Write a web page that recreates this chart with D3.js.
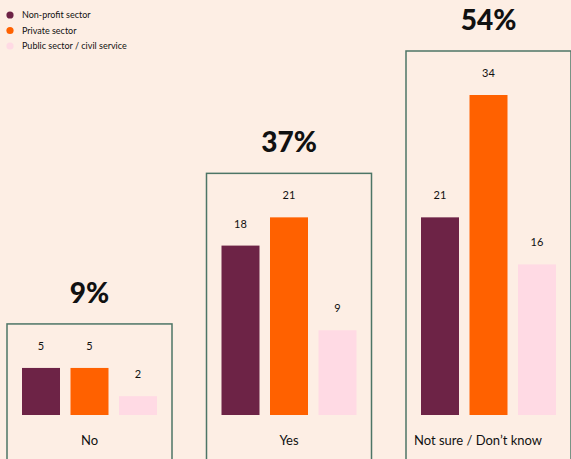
<!DOCTYPE html>
<html>
<head>
<meta charset="utf-8">
<script src="https://d3js.org/d3.v7.min.js"></script>
<style>
  html, body { margin: 0; padding: 0; background: #fdeee4; }
  text { font-family: Lato, "Noto Sans", sans-serif; fill: #111; }
</style>
</head>
<body>
<svg id="chart" width="571" height="459"></svg>
<script>
// data
const categories = ["No", "Yes", "Not sure / Don\u2019t know"]
const totals = ["9%", "37%", "54%"]
const series = ["Non-profit sector", "Private sector", "Public sector / civil service"]
const nonProfit = [5, 18, 21]
const privateSector = [5, 21, 34]
const publicSector = [2, 9, 16]

const colors = ["#6d2346", "#ff6100", "#ffdae4"]
const values = [nonProfit, privateSector, publicSector]

const svg = d3.select("#chart")
const width = 571, height = 459

// each category is one framed panel
const x0 = d3.scaleBand()
    .domain(categories)
    .range([0, 598.5])

const x1 = d3.scaleBand()
    .domain(series)
    .range([22, 157])
    .paddingInner(0.2165)
    .paddingOuter(0)

const y = d3.scaleLinear()
    .domain([0, 34])
    .range([415, 95])

const groups = svg.selectAll("g.group")
    .data(categories)
    .join("g")
    .attr("class", "group")
    .attr("transform", d => `translate(${x0(d)},0)`)

groups.each(function(cat, i) {
    const g = d3.select(this)
    const groupVals = values.map(v => v[i])
    const top = y(d3.max(groupVals)) - 44

    g.append("rect")
        .attr("x", 7)
        .attr("y", top)
        .attr("width", 165)
        .attr("height", height - top + 10)
        .attr("fill", "none")
        .attr("stroke", "#4d7566")
        .attr("stroke-width", 1.5)

    g.append("text")
        .attr("x", 89.5)
        .attr("y", top - 21)
        .attr("text-anchor", "middle")
        .attr("font-size", 28)
        .attr("font-weight", 900)
        .text(totals[i])

    g.selectAll("rect.bar")
        .data(series)
        .join("rect")
        .attr("class", "bar")
        .attr("x", s => x1(s))
        .attr("y", (s, j) => y(values[j][i]))
        .attr("width", x1.bandwidth())
        .attr("height", (s, j) => y(0) - y(values[j][i]))
        .attr("fill", (s, j) => colors[j])

    g.selectAll("text.val")
        .data(series)
        .join("text")
        .attr("class", "val")
        .attr("x", s => x1(s) + x1.bandwidth() / 2)
        .attr("y", (s, j) => y(values[j][i]) - 18)
        .attr("text-anchor", "middle")
        .attr("font-size", 11)
        .text((s, j) => values[j][i])

    const lbl = g.append("text")
        .attr("x", 89.5)
        .attr("y", 445)
        .attr("text-anchor", "middle")
        .attr("font-size", 13)
        .text(cat)
    // long labels start at the panel's left padding
    if (lbl.node().getComputedTextLength() > 100) {
        lbl.attr("x", 15).attr("text-anchor", "start")
    }
})

// legend
const legend = svg.append("g")
legend.selectAll("circle")
    .data(series)
    .join("circle")
    .attr("cx", 10)
    .attr("cy", (d, i) => 15 + i * 15.5)
    .attr("r", 3.6)
    .attr("fill", (d, i) => colors[i])

legend.selectAll("text")
    .data(series)
    .join("text")
    .attr("x", 22)
    .attr("y", (d, i) => 15 + i * 15.5)
    .attr("dy", "0.35em")
    .attr("font-size", 9)
    .text(d => d)
</script>
</body>
</html>
